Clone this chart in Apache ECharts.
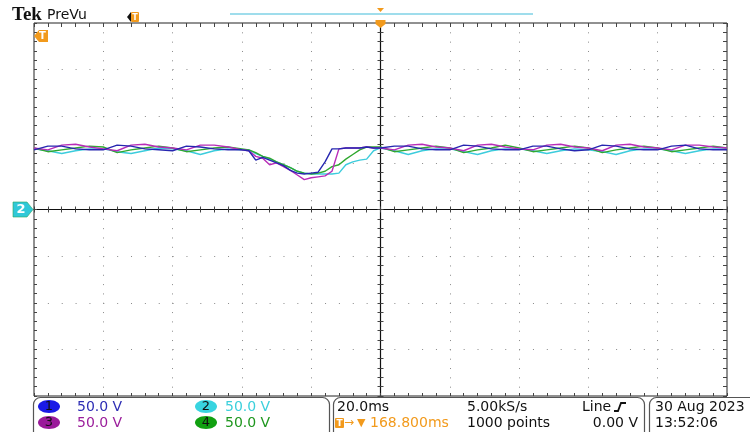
<!DOCTYPE html>
<html><head><meta charset="utf-8">
<script src="https://cdn.jsdelivr.net/npm/echarts@6/dist/echarts.min.js"></script>
<style>html,body{margin:0;padding:0;background:#fff}#c{width:750px;height:432px}</style>
</head><body><div id="c"></div>
<script>
// time in ms (20 ms/div, trigger at 0), voltage in V (50 V/div)
const times = [-100,-96,-92,-88,-84,-80,-76,-72,-68,-64,-60,-56,-52,-48,-44,-40,
  -38,-36,-34,-32,-30,-28,-26,-24,-22,-20,-18,-16,-14,-12,-10,-8,-6,-4,-2,0,
  4,8,12,16,20,24,28,32,36,40,44,48,52,56,60,64,68,72,76,80,84,88,92,96,100];
const ch1 = [64,68,68,65,64,64,69,68,65,64,63,68,67,65,64,64,
  63,53,56,53,50,47,42,39,38,39,40,51,65,65,66,66,66,67,66,66,
  68,68,65,64,64,69,68,65,64,64,68,68,65,63,64,69,68,65,64,64,68,69,65,64,64];
const ch2 = [65,63,60,63,65,65,62,60,63,66,65,63,59,63,65,64,
  64,60,57,54,51,48,45,41,39,38,38,38,38,39,48,51,53,54,63,66,
  63,59,63,65,65,62,59,63,65,65,63,60,63,65,64,62,59,63,65,65,63,60,63,65,65];
const ch3 = [66,64,69,70,67,65,63,69,70,67,66,64,69,69,67,64,
  63,57,55,48,50,46,42,37,32,34,35,36,41,65,66,66,66,67,66,66,
  64,69,70,67,66,63,69,70,67,65,64,69,70,67,66,63,69,70,67,66,64,69,69,67,66];
const ch4 = [66,62,64,66,68,67,61,64,66,68,66,62,64,66,67,65,
  64,61,57,55,51,48,45,41,39,38,39,41,46,48,54,59,64,67,67,67,
  62,64,66,68,66,61,64,66,69,66,62,64,66,68,66,61,64,66,68,66,62,64,66,68,66];
const channelLabels = ['1','2','3','4'];
const scaleLabels = ['50.0 V','50.0 V','50.0 V','50.0 V'];
const timeScale = '20.0ms';
const sampleRate = '5.00kS/s';
const triggerSource = 'Line';
const triggerPos = '168.800ms';
const recordLen = '1000 points';
const triggerLevel = '0.00 V';
const dateText = '30 Aug 2023';
const timeText = '13:52:06';

const traceColors = ['#2626b0','#3cccdc','#b82cb8','#30a830'];
const labelColors = ['#2d2db4','#3cd0dc','#9b1e9b','#1e961e'];
const ellipseColors = ['#1a1ae6','#38d4e0','#9a1a9a','#11a011'];
const orange = '#f29a1c';
const font = '"DejaVu Sans", sans-serif';

const chart = echarts.init(document.getElementById('c'), null, {renderer:'canvas'});

const tickStyle = {color:'#444', width:1};
function xAx(extra){
  return Object.assign({type:'value', min:-100, max:100, interval:20, gridIndex:0,
    axisLabel:{show:false}, splitLine:{show:false}, axisLine:{show:false, onZero:false},
    axisTick:{show:false}, minorTick:{show:false}}, extra);
}
function yAx(extra){
  return Object.assign({type:'value', min:-200, max:200, interval:50, gridIndex:0,
    axisLabel:{show:false}, splitLine:{show:false}, axisLine:{show:false, onZero:false},
    axisTick:{show:false}, minorTick:{show:false}}, extra);
}
const tk = (inside,len)=>({show:true, inside:inside, length:len, lineStyle:tickStyle});
const mtk = (len)=>({show:true, splitNumber:5, length:len, lineStyle:tickStyle});

const series = [[ch2,1],[ch4,3],[ch3,2],[ch1,0]].map(([arr,ci])=>({
  type:'line', xAxisIndex:0, yAxisIndex:0, showSymbol:false, symbol:'none',
  data: times.map((t,i)=>[t, arr[i]]),
  lineStyle:{color:traceColors[ci], width:1.4}, z:5, animation:false
}));

function ell(cx,cy,color,label){
  return [{type:'ellipse', shape:{cx:cx, cy:cy, rx:11, ry:6.5}, style:{fill:color}},
   {type:'text', x:cx, y:cy+0.5, style:{text:label, fill:'#111', font:'13px '+font, align:'center', verticalAlign:'middle'}}];
}
// y is the text baseline; converted to a middle anchor
function txt(x,y,s,color,align,size){
  size = size||14;
  return {type:'text', x:x, y:y-size*0.36, style:{text:s, fill:color||'#111', font:size+'px '+font, align:align||'left', verticalAlign:'middle'}};
}

const graphics = [
  {type:'text', x:12, y:15, style:{text:'Tek', fill:'#111', font:'bold 19px "Liberation Serif", serif', verticalAlign:'middle'}},
  txt(47,20,'PreVu','#111','left',14),
  {type:'polygon', shape:{points:[[127,17],[131,12],[131,22]]}, style:{fill:'#111'}},
  {type:'rect', shape:{x:131, y:12, width:8, height:10, r:1}, style:{fill:orange}},
  {type:'text', x:135, y:17.5, style:{text:'T', fill:'#fff', font:'bold 8px '+font, align:'center', verticalAlign:'middle'}},
  {type:'line', shape:{x1:230, y1:14, x2:533, y2:14}, style:{stroke:'#7fd2e6', lineWidth:1.6}},
  {type:'polygon', shape:{points:[[377,8],[384,8],[380.5,12]]}, style:{fill:orange}},
  {type:'polygon', shape:{points:[[375.5,20],[385.5,20],[385.5,24],[380.5,28],[375.5,24]]}, style:{fill:orange}, z:10},
  {type:'polygon', shape:{points:[[34,36],[39,30],[48,30],[48,42],[39,42]]}, style:{fill:orange}, z:10},
  {type:'text', x:42.5, y:36.5, style:{text:'T', fill:'#fff', font:'bold 10px '+font, align:'center', verticalAlign:'middle'}, z:11},
  {type:'polygon', shape:{points:[[13,202],[27,202],[33,209.5],[27,217],[13,217]]}, style:{fill:'#30c8d8', stroke:'#2aa860', lineWidth:0.6}, z:10},
  {type:'text', x:21, y:210, style:{text:'2', fill:'#fff', font:'bold 13px '+font, align:'center', verticalAlign:'middle'}, z:11},
  // footer boxes
  {type:'rect', shape:{x:33.5, y:397.5, width:296, height:50, r:7}, style:{fill:'none', stroke:'#555', lineWidth:1.2}},
  {type:'rect', shape:{x:333.5, y:397.5, width:311, height:50, r:7}, style:{fill:'none', stroke:'#555', lineWidth:1.2}},
  {type:'rect', shape:{x:649.5, y:397.5, width:120, height:50, r:7}, style:{fill:'none', stroke:'#555', lineWidth:1.2}},
  ...ell(49,406.5,ellipseColors[0],channelLabels[0]),
  ...ell(206,406.5,ellipseColors[1],channelLabels[1]),
  ...ell(49,422.5,ellipseColors[2],channelLabels[2]),
  ...ell(206,422.5,ellipseColors[3],channelLabels[3]),
  txt(77,412,scaleLabels[0],labelColors[0]),
  txt(225,412,scaleLabels[1],labelColors[1]),
  txt(77,428,scaleLabels[2],labelColors[2]),
  txt(225,428,scaleLabels[3],labelColors[3]),
  txt(337,412,timeScale),
  txt(467,412,sampleRate),
  txt(582,412,triggerSource),
  {type:'polyline', shape:{points:[[614,411],[618,411],[621,403],[626,403]]}, style:{stroke:'#111', lineWidth:1.8, fill:'none'}},
  {type:'rect', shape:{x:335, y:418, width:9, height:10, r:1}, style:{fill:orange}},
  {type:'text', x:339.5, y:423.5, style:{text:'T', fill:'#fff', font:'bold 9px '+font, align:'center', verticalAlign:'middle'}},
  txt(344,427,'→',orange,'left',12),
  txt(357,427,'▼',orange,'left',11),
  txt(370,428,triggerPos,orange),
  txt(467,428,recordLen),
  txt(638,428,triggerLevel,'#111','right'),
  txt(655,412,dateText),
  txt(655,428,timeText)
];

const option = {
  backgroundColor:'#fff',
  animation:false,
  grid:{left:34, top:23, width:693, height:373, show:true, borderColor:'#222', borderWidth:1, backgroundColor:'transparent'},
  xAxis:[
    xAx({position:'bottom', axisTick:tk(true,3), minorTick:mtk(3),
      splitLine:{show:true, lineStyle:{color:'#8a8a8a', width:1, type:[1,8.325]}}}),
    xAx({position:'top', axisTick:tk(true,4), minorTick:mtk(4)}),
    xAx({position:'bottom', axisLine:{show:true, onZero:true, onZeroAxisIndex:0, lineStyle:{color:'#111', width:1.2}}, axisTick:tk(false,3), minorTick:mtk(3)}),
    xAx({position:'bottom', axisLine:{show:false, onZero:true, onZeroAxisIndex:0}, axisTick:tk(true,3), minorTick:mtk(3)})
  ],
  yAxis:[
    yAx({position:'left', axisTick:tk(true,3), minorTick:mtk(3),
      splitLine:{show:true, lineStyle:{color:'#8a8a8a', width:1, type:[1,12.86]}}}),
    yAx({position:'right', axisTick:tk(true,4), minorTick:mtk(4)}),
    yAx({position:'left', axisLine:{show:true, onZero:true, onZeroAxisIndex:0, lineStyle:{color:'#111', width:1.2}}, axisTick:tk(false,3), minorTick:mtk(3)}),
    yAx({position:'left', axisLine:{show:false, onZero:true, onZeroAxisIndex:0}, axisTick:tk(true,3), minorTick:mtk(3)})
  ],
  series: series,
  graphic: graphics
};
chart.setOption(option);
</script>
</body></html>
